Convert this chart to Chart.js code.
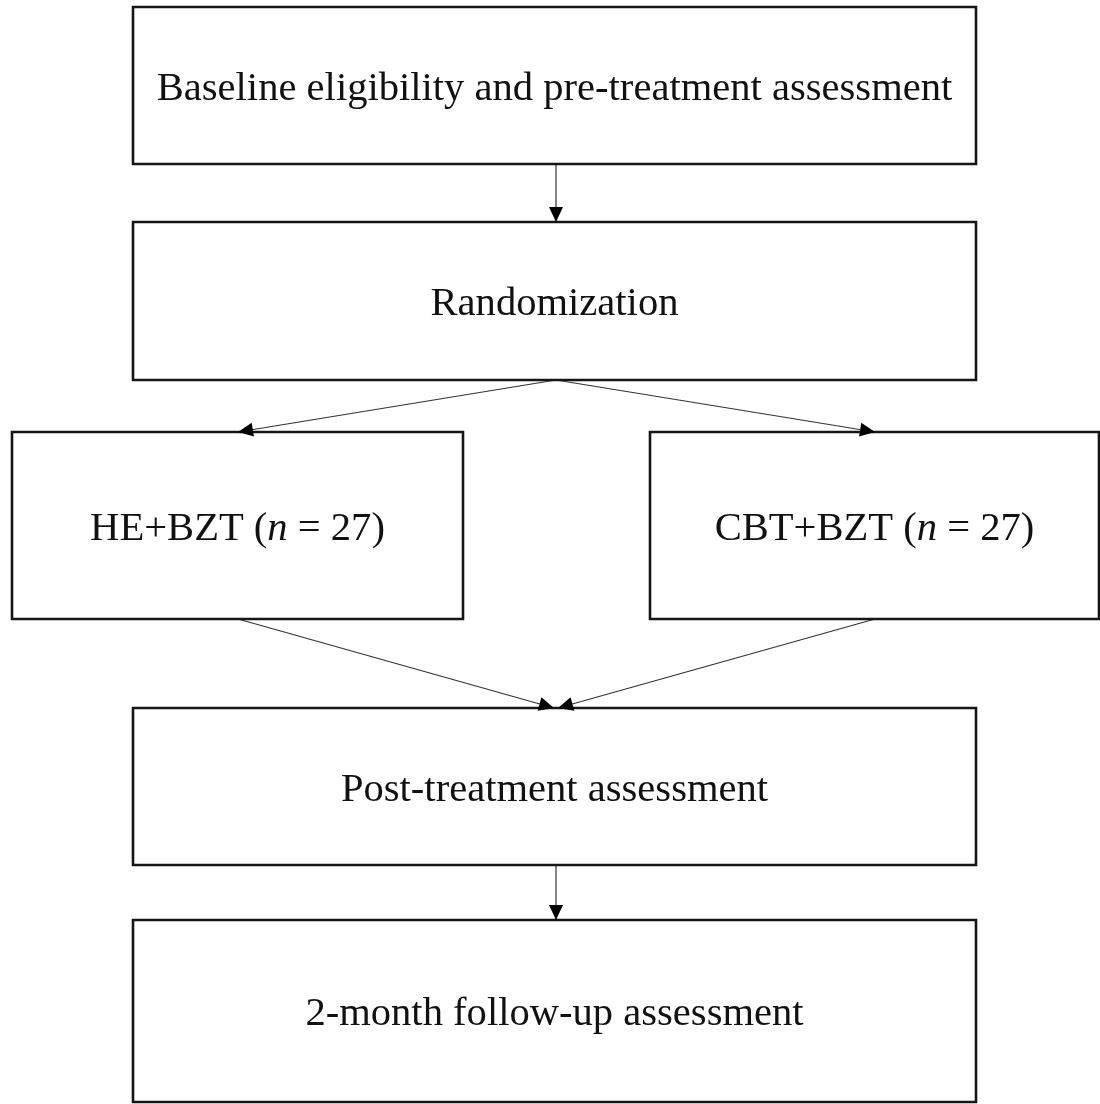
<!DOCTYPE html>
<html>
<head>
<meta charset="utf-8">
<script src="https://cdn.jsdelivr.net/npm/chart.js@4.4.0/dist/chart.umd.min.js"></script>
<style>
html,body{margin:0;padding:0;background:#fff;}
#wrap{width:1100px;height:1104px;position:relative;}
</style>
</head>
<body>
<div id="wrap"><canvas id="c" width="1100" height="1104"></canvas></div>
<script>
// ---- Flowchart content ----
const nodeLabels = [
  "Baseline eligibility and pre-treatment assessment",
  "Randomization",
  "HE+BZT (*n* = 27)",
  "CBT+BZT (*n* = 27)",
  "Post-treatment assessment",
  "2-month follow-up assessment"
];
// box bounds in chart units: [left, top, right, bottom]
const nodeBoxes = [
  [133, 7, 976, 164],
  [133, 222, 976, 380],
  [12, 432, 463, 619],
  [650, 432, 1099, 619],
  [133, 708, 976, 865],
  [133, 920, 976, 1102]
];
// connectors: [fromX, fromY, toX, toY]
const arrowLinks = [
  [556, 164, 556, 222],
  [556, 380, 238, 432],
  [556, 380, 875, 432],
  [238, 619, 554, 708],
  [875, 619, 558, 708],
  [556, 865, 556, 920]
];

const boxDatasets = nodeBoxes.map(b => ({
  data: [{x:b[0],y:b[1]},{x:b[2],y:b[1]},{x:b[2],y:b[3]},{x:b[0],y:b[3]},{x:b[0],y:b[1]}],
  showLine: true, borderColor: '#161616', borderWidth: 2.6, pointRadius: 0,
  backgroundColor: 'transparent', borderCapStyle: 'square', borderJoinStyle: 'miter'
}));
const arrowDatasets = arrowLinks.map(a => ({
  data: [{x:a[0],y:a[1]},{x:a[2],y:a[3]}],
  showLine: true, borderColor: '#333', borderWidth: 1.2, pointRadius: 0,
  backgroundColor: 'transparent'
}));

const flowPlugin = {
  id: 'flow',
  afterDatasetsDraw(chart) {
    const ctx = chart.ctx, xs = chart.scales.x, ys = chart.scales.y;
    // arrowheads
    ctx.save();
    ctx.fillStyle = '#000';
    arrowLinks.forEach(a => {
      const x1 = xs.getPixelForValue(a[0]), y1 = ys.getPixelForValue(a[1]);
      const x2 = xs.getPixelForValue(a[2]), y2 = ys.getPixelForValue(a[3]);
      const ang = Math.atan2(y2 - y1, x2 - x1);
      const L = 15, W = 7;
      ctx.beginPath();
      ctx.moveTo(x2, y2);
      ctx.lineTo(x2 - L*Math.cos(ang) + W*Math.sin(ang), y2 - L*Math.sin(ang) - W*Math.cos(ang));
      ctx.lineTo(x2 - L*Math.cos(ang) - W*Math.sin(ang), y2 - L*Math.sin(ang) + W*Math.cos(ang));
      ctx.closePath();
      ctx.fill();
    });
    // labels with italic runs
    ctx.fillStyle = '#111';
    ctx.textBaseline = 'alphabetic';
    const size = 40.6;
    const fam = '"Liberation Serif", "Times New Roman", serif';
    nodeLabels.forEach((lab, i) => {
      const b = nodeBoxes[i];
      const cx = xs.getPixelForValue((b[0] + b[2]) / 2);
      const cy = ys.getPixelForValue((b[1] + b[3]) / 2) + 14;
      const parts = lab.split('*').map((t, k) => ({t, it: k % 2 === 1}));
      let total = 0;
      parts.forEach(p => { ctx.font = (p.it ? 'italic ' : '') + size + 'px ' + fam; p.w = ctx.measureText(p.t).width; total += p.w; });
      let x = cx - total / 2;
      ctx.textAlign = 'left';
      parts.forEach(p => { ctx.font = (p.it ? 'italic ' : '') + size + 'px ' + fam; ctx.fillText(p.t, x, cy); x += p.w; });
    });
    ctx.restore();
  }
};

new Chart(document.getElementById('c'), {
  type: 'scatter',
  data: { datasets: [...boxDatasets, ...arrowDatasets] },
  options: {
    responsive: false, animation: false,
    layout: { padding: 0 },
    plugins: { legend: { display: false }, tooltip: { enabled: false } },
    scales: {
      x: { type: 'linear', min: 0, max: 1100, display: false },
      y: { type: 'linear', min: 0, max: 1104, reverse: true, display: false }
    }
  },
  plugins: [flowPlugin]
});
</script>
</body>
</html>
